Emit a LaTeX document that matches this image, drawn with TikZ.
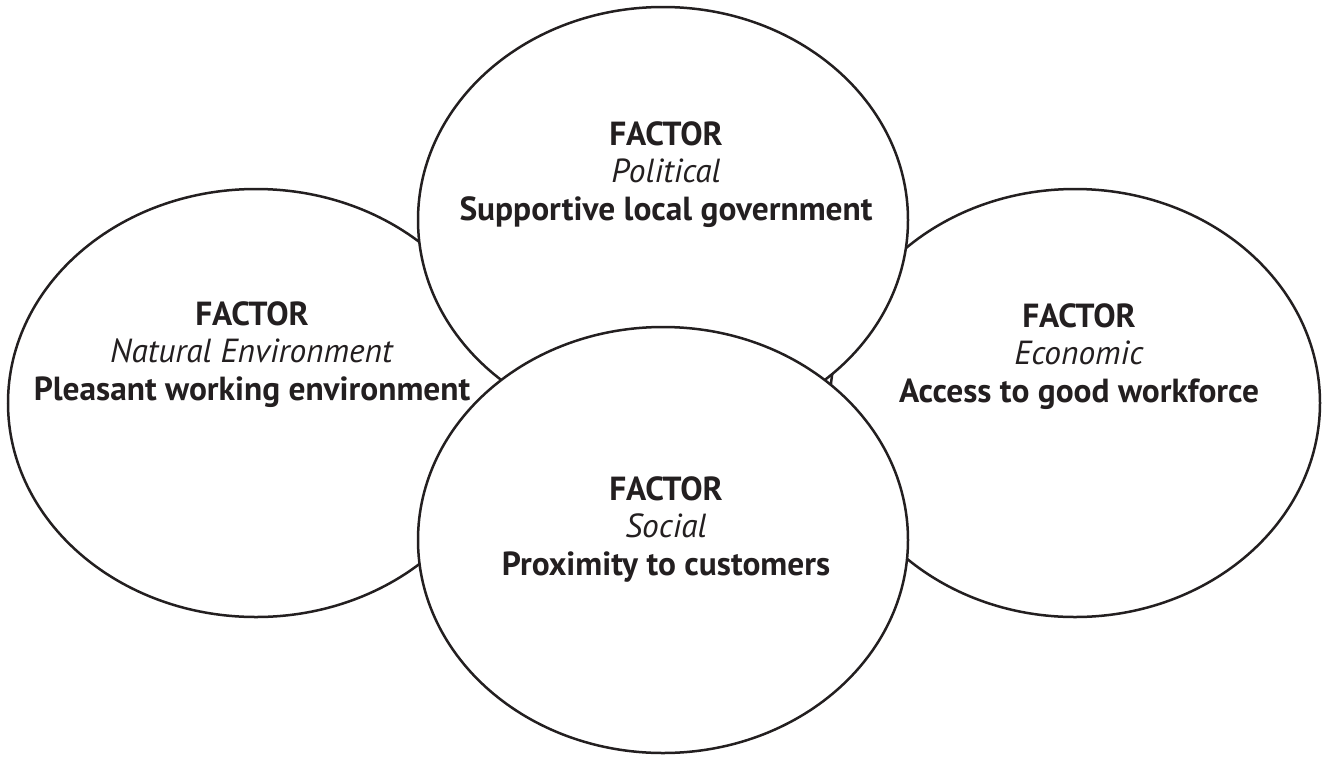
\documentclass[tikz,border=0pt]{standalone}
\usepackage{fontspec}
\setmainfont{PT Sans}
\usetikzlibrary{shapes.geometric}
\definecolor{ink}{HTML}{231F20}
\begin{document}
\begin{tikzpicture}[x=0.5pt,y=-0.5pt,
  circ/.style={ellipse,draw=ink,line width=1.25pt,fill=white,inner sep=0pt},
  lbl/.style={align=center,text=ink,anchor=base,font=\fontsize{16.7}{18.75}\selectfont}]
\useasboundingbox (0,0) rectangle (1329,756);
\node[circ,minimum width=248pt,minimum height=214pt] (env) at (256,403) {};
\node[circ,minimum width=245pt,minimum height=214pt] (eco) at (1075,403) {};
\node[circ,minimum width=245pt,minimum height=213pt] (pol) at (663,220) {};
\node[circ,minimum width=245pt,minimum height=213pt] (soc) at (663,540) {};
\node[lbl] (envt) at (252,400) {\textbf{FACTOR}\\\textit{Natural Environment}\\\textbf{Pleasant working environment}};
\node[lbl] (polt) at (666,220) {\textbf{FACTOR}\\\textit{Political}\\\textbf{Supportive local government}};
\node[lbl] (ecot) at (1079,402) {\textbf{FACTOR}\\\textit{Economic}\\\textbf{Access to good workforce}};
\node[lbl] (soct) at (666,575) {\textbf{FACTOR}\\\textit{Social}\\\textbf{Proximity to customers}};
\end{tikzpicture}
\end{document}
